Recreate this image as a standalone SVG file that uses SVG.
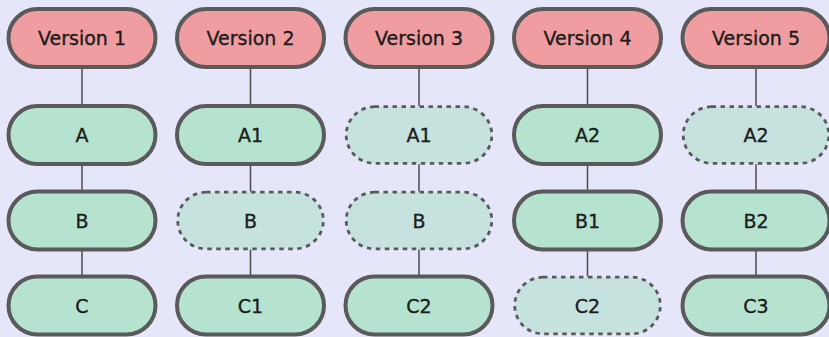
<svg xmlns="http://www.w3.org/2000/svg" width="829" height="337" viewBox="0 0 829 337">
<style>
.bg{fill:#E6E6FA}
.ver{fill:#F09DA1;stroke:#5A5A5A;stroke-width:4}
.obj{fill:#B5E3CF;stroke:#5A5A5A;stroke-width:4}
.ref{fill:#C6E2DE;stroke:#5A5A5A;stroke-width:2.8;stroke-dasharray:4.5 4.5}
.lbl{font-family:"DejaVu Sans",sans-serif;font-size:19px;fill:#1C1C1C;stroke:#1C1C1C;stroke-width:0.35;text-anchor:middle}
.conn line{stroke:#4A4A4A;stroke-width:1.5}
</style>
<rect class="bg" x="0" y="0" width="829" height="337"/>
<g id="connectors" class="conn">
<line x1="82" y1="67" x2="82" y2="106"/><line x1="82" y1="164" x2="82" y2="191.5"/><line x1="82" y1="249.5" x2="82" y2="276.5"/>
<line x1="250.5" y1="67" x2="250.5" y2="106"/><line x1="250.5" y1="164" x2="250.5" y2="191.5"/><line x1="250.5" y1="249.5" x2="250.5" y2="276.5"/>
<line x1="419" y1="67" x2="419" y2="106"/><line x1="419" y1="164" x2="419" y2="191.5"/><line x1="419" y1="249.5" x2="419" y2="276.5"/>
<line x1="587.5" y1="67" x2="587.5" y2="106"/><line x1="587.5" y1="164" x2="587.5" y2="191.5"/><line x1="587.5" y1="249.5" x2="587.5" y2="276.5"/>
<line x1="756" y1="67" x2="756" y2="106"/><line x1="756" y1="164" x2="756" y2="191.5"/><line x1="756" y1="249.5" x2="756" y2="276.5"/>
</g>
<g id="v1"><rect class="ver" x="8.5" y="9" width="147" height="58" rx="29"/><text class="lbl" x="82" y="45">Version 1</text></g>
<g id="v2"><rect class="ver" x="177" y="9" width="147" height="58" rx="29"/><text class="lbl" x="250.5" y="45">Version 2</text></g>
<g id="v3"><rect class="ver" x="345.5" y="9" width="147" height="58" rx="29"/><text class="lbl" x="419" y="45">Version 3</text></g>
<g id="v4"><rect class="ver" x="514" y="9" width="147" height="58" rx="29"/><text class="lbl" x="587.5" y="45">Version 4</text></g>
<g id="v5"><rect class="ver" x="682.5" y="9" width="147" height="58" rx="29"/><text class="lbl" x="756" y="45">Version 5</text></g>

<g id="v1-a"><rect class="obj" x="8.5" y="106" width="147" height="58" rx="29"/><text class="lbl" x="82" y="142">A</text></g>
<g id="v1-b"><rect class="obj" x="8.5" y="191.5" width="147" height="58" rx="29"/><text class="lbl" x="82" y="227.5">B</text></g>
<g id="v1-c"><rect class="obj" x="8.5" y="276.5" width="147" height="58" rx="29"/><text class="lbl" x="82" y="312.5">C</text></g>

<g id="v2-a1"><rect class="obj" x="177" y="106" width="147" height="58" rx="29"/><text class="lbl" x="250.5" y="142">A1</text></g>
<g id="v2-b"><rect class="ref" x="177.7" y="192.2" width="145.6" height="56.6" rx="28.3"/><text class="lbl" x="250.5" y="227.5">B</text></g>
<g id="v2-c1"><rect class="obj" x="177" y="276.5" width="147" height="58" rx="29"/><text class="lbl" x="250.5" y="312.5">C1</text></g>

<g id="v3-a1"><rect class="ref" x="346.2" y="106.7" width="145.6" height="56.6" rx="28.3"/><text class="lbl" x="419" y="142">A1</text></g>
<g id="v3-b"><rect class="ref" x="346.2" y="192.2" width="145.6" height="56.6" rx="28.3"/><text class="lbl" x="419" y="227.5">B</text></g>
<g id="v3-c2"><rect class="obj" x="345.5" y="276.5" width="147" height="58" rx="29"/><text class="lbl" x="419" y="312.5">C2</text></g>

<g id="v4-a2"><rect class="obj" x="514" y="106" width="147" height="58" rx="29"/><text class="lbl" x="587.5" y="142">A2</text></g>
<g id="v4-b1"><rect class="obj" x="514" y="191.5" width="147" height="58" rx="29"/><text class="lbl" x="587.5" y="227.5">B1</text></g>
<g id="v4-c2"><rect class="ref" x="514.7" y="277.2" width="145.6" height="56.6" rx="28.3"/><text class="lbl" x="587.5" y="312.5">C2</text></g>

<g id="v5-a2"><rect class="ref" x="683.2" y="106.7" width="145.6" height="56.6" rx="28.3"/><text class="lbl" x="756" y="142">A2</text></g>
<g id="v5-b2"><rect class="obj" x="682.5" y="191.5" width="147" height="58" rx="29"/><text class="lbl" x="756" y="227.5">B2</text></g>
<g id="v5-c3"><rect class="obj" x="682.5" y="276.5" width="147" height="58" rx="29"/><text class="lbl" x="756" y="312.5">C3</text></g>
</svg>
